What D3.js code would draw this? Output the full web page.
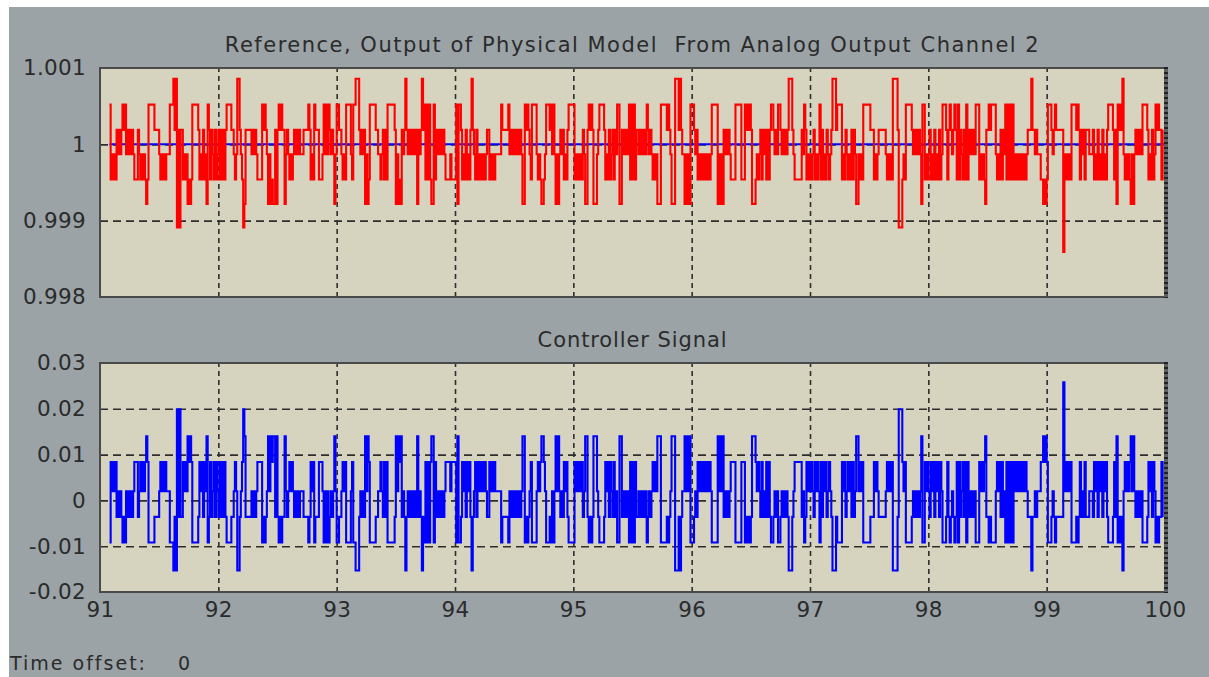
<!DOCTYPE html>
<html>
<head>
<meta charset="utf-8">
<script src="https://cdn.jsdelivr.net/npm/d3@7"></script>
<style>
  html, body { margin: 0; padding: 0; background: #ffffff; }
  svg { display: block; }
  text { font-family: "DejaVu Sans", "Liberation Sans", Arial, sans-serif; fill: #2b2b2b; }
</style>
</head>
<body>
<svg id="chart" width="1209" height="677"></svg>
<script>
// ---------------- data ----------------
const timeStart = 91.08;          // first sample time (s)
const sampleStep = 0.01;          // sample period (s)
const timeTicks = [91, 92, 93, 94, 95, 96, 97, 98, 99, 100];

const topTitle = "Reference, Output of Physical Model  From Analog Output Channel 2";
const topTicks = [0.998, 0.999, 1, 1.001];
const topTickLabels = ["0.998", "0.999", "1", "1.001"];
const referenceValue = 1;

const bottomTitle = "Controller Signal";
const bottomTicks = [-0.02, -0.01, 0, 0.01, 0.02, 0.03];
const bottomTickLabels = ["-0.02", "-0.01", "0", "0.01", "0.02", "0.03"];

const footerLabel = "Time offset:";
const footerValue = "0";

// quantised levels of the measured output and of the controller signal,
// indexed by the sample code (0..7)
const outputLevels  = [0.99859, 0.99891, 0.99922, 0.99954, 0.99987, 1.00019, 1.00052, 1.00086];
const controlLevels = [0.0258, 0.0199, 0.0140, 0.0084, 0.0020, -0.0036, -0.0092, -0.0153];

// sample codes, one character per sample, read segment by segment (about 1.5 s each)
const sampleCodeSegments = [
  "63434354545656454545433354343432366666555543434344466675715155343423236666653435342653543534535353566665543477543125555545454333365654242322525" + "6565",
  "52454343454545444555565343655533346464654542466554343666643667775454524236666655443453536666665242325457545454545254575636363226354545454333343333626",
  "653435343575435343434345534343444446555556454545454542265654366664343223466656464242454534356666634343435422565652224566665343534535466225454546363635",
  "545454546545434342226666656542227775754424242666545343434343434666662424254545433336666633365656522234345354535356654546654545457775433333354653434345",
  "343463534354345777566663435434353542243436666665553434555555434343777751113436666654545454266343453435343534666535654565363543536354545466634343255656",
  "66643435354636363634343434343455575545444332323666545655555504343436666565354535554445343534353435666653526565743434324245454546666534353465655" + "35"
];

// ---------------- layout ----------------
const W = 1209, H = 677;
const plotLeft = 100, plotRight = 1165;
const topPanel = { top: 68, bottom: 297 };
const botPanel = { top: 363, bottom: 592 };

const colors = {
  frame: "#9ba3a6",
  axesBg: "#d6d3be",
  grid: "#2e2e2e",
  border: "#4a4a4a",
  output: "#ff0000",
  reference: "#0000ff",
  control: "#0000ff",
  text: "#2b2b2b"
};

const svg = d3.select("#chart");

// outer frame (white strip at top and left as in the screenshot)
svg.append("rect").attr("x", 0).attr("y", 0).attr("width", W).attr("height", H).attr("fill", "#ffffff");
svg.append("rect").attr("x", 9).attr("y", 7).attr("width", W - 9).attr("height", H - 7).attr("fill", colors.frame);

// samples
const codes = sampleCodeSegments.join("").split("").map(Number);
const samples = codes.map((c, i) => ({
  t: timeStart + i * sampleStep,
  out: outputLevels[c],
  ctl: controlLevels[c]
}));
const tEnd = 100;

const x = d3.scaleLinear().domain([91, 100]).range([plotLeft, plotRight]);
const yTop = d3.scaleLinear().domain([0.998, 1.001]).range([topPanel.bottom, topPanel.top]);
const yBot = d3.scaleLinear().domain([-0.02, 0.03]).range([botPanel.bottom, botPanel.top]);

const tickFont = "21.5px";

function drawPanel(panel, y, ticks, tickLabels, title, titleSpacing, showXLabels) {
  const g = svg.append("g");
  const h = panel.bottom - panel.top;
  const clipId = "clip" + panel.top;
  svg.append("clipPath").attr("id", clipId)
    .append("rect").attr("x", plotLeft).attr("y", panel.top)
    .attr("width", plotRight - plotLeft).attr("height", h);

  g.append("rect").attr("x", plotLeft).attr("y", panel.top)
    .attr("width", plotRight - plotLeft).attr("height", h)
    .attr("fill", colors.axesBg);

  // grid lines via axes
  const gridY = d3.axisLeft(y).tickValues(ticks).tickSize(-(plotRight - plotLeft)).tickFormat("");
  const gy = g.append("g").attr("transform", `translate(${plotLeft},0)`).call(gridY);
  gy.select(".domain").remove();
  gy.selectAll(".tick line")
    .attr("stroke", colors.grid).attr("stroke-width", 1.6).attr("stroke-dasharray", "8,5")
    .filter(d => d === ticks[0] || d === ticks[ticks.length - 1]).remove();

  const gridX = d3.axisBottom(x).tickValues(timeTicks).tickSize(-h).tickFormat("");
  const gx = g.append("g").attr("transform", `translate(0,${panel.bottom})`).call(gridX);
  gx.select(".domain").remove();
  gx.selectAll(".tick line")
    .attr("stroke", colors.grid).attr("stroke-width", 1.6).attr("stroke-dasharray", "5,4")
    .filter(d => d === timeTicks[0] || d === timeTicks[timeTicks.length - 1]).remove();

  // y tick labels
  const ay = g.append("g").attr("transform", `translate(${plotLeft},0)`)
    .call(d3.axisLeft(y).tickValues(ticks).tickSize(0).tickPadding(14)
      .tickFormat((d, i) => tickLabels[i]));
  ay.select(".domain").remove();
  ay.selectAll("text").style("font-size", tickFont).attr("fill", colors.text)
    .style("font-family", "'DejaVu Sans', sans-serif").style("letter-spacing", "0.3px");

  if (showXLabels) {
    const ax = g.append("g").attr("transform", `translate(0,${panel.bottom})`)
      .call(d3.axisBottom(x).tickValues(timeTicks).tickSize(0).tickPadding(10).tickFormat(d3.format("d")));
    ax.select(".domain").remove();
    ax.selectAll("text").style("font-size", tickFont).attr("fill", colors.text)
      .style("font-family", "'DejaVu Sans', sans-serif").style("letter-spacing", "0.3px");
  }

  // title
  g.append("text").attr("x", (plotLeft + plotRight) / 2).attr("y", panel.top - 16)
    .attr("text-anchor", "middle").style("font-size", "21px").style("white-space", "pre")
    .style("letter-spacing", titleSpacing)
    .attr("fill", colors.text).text(title);

  return { g, clipId };
}

const topP = drawPanel(topPanel, yTop, topTicks, topTickLabels, topTitle, "1.5px", false);
const botP = drawPanel(botPanel, yBot, bottomTicks, bottomTickLabels, bottomTitle, "0.9px", true);

// reference line (blue) in the top panel
const refLine = d3.line().x(d => x(d.t)).y(() => yTop(referenceValue));
topP.g.append("path")
  .datum([{ t: timeStart }, { t: tEnd }])
  .attr("clip-path", `url(#${topP.clipId})`)
  .attr("d", refLine).attr("fill", "none")
  .attr("stroke", colors.reference).attr("stroke-width", 2);

// output (red) staircase
const outLine = d3.line().curve(d3.curveStepAfter).x(d => x(d.t)).y(d => yTop(d.out));
topP.g.append("path").datum(samples)
  .attr("clip-path", `url(#${topP.clipId})`)
  .attr("d", outLine).attr("fill", "none")
  .attr("stroke", colors.output).attr("stroke-width", 2.1);

// controller (blue) staircase
const ctlLine = d3.line().curve(d3.curveStepAfter).x(d => x(d.t)).y(d => yBot(d.ctl));
botP.g.append("path").datum(samples)
  .attr("clip-path", `url(#${botP.clipId})`)
  .attr("d", ctlLine).attr("fill", "none")
  .attr("stroke", colors.control).attr("stroke-width", 2.1);

// borders
[topPanel, botPanel].forEach(p => {
  svg.append("rect").attr("x", plotLeft).attr("y", p.top)
    .attr("width", plotRight - plotLeft).attr("height", p.bottom - p.top)
    .attr("fill", "none").attr("stroke", colors.border).attr("stroke-width", 2);
  svg.append("line").attr("x1", plotRight + 1).attr("x2", plotRight + 1)
    .attr("y1", p.top - 1).attr("y2", p.bottom + 1)
    .attr("stroke", "#5c6163").attr("stroke-width", 4);
  svg.append("line").attr("x1", plotRight + 1).attr("x2", plotRight + 1)
    .attr("y1", p.top - 1).attr("y2", p.bottom + 1)
    .attr("stroke", "#222").attr("stroke-width", 4).attr("stroke-dasharray", "2,3");
});

// footer
svg.append("text").attr("x", 10).attr("y", 670).style("font-size", "19px")
  .style("letter-spacing", "2px").attr("fill", "#3a3630").text(footerLabel);
svg.append("text").attr("x", 178).attr("y", 670).style("font-size", "19px")
  .attr("fill", "#3a3630").text(footerValue);
</script>
</body>
</html>
